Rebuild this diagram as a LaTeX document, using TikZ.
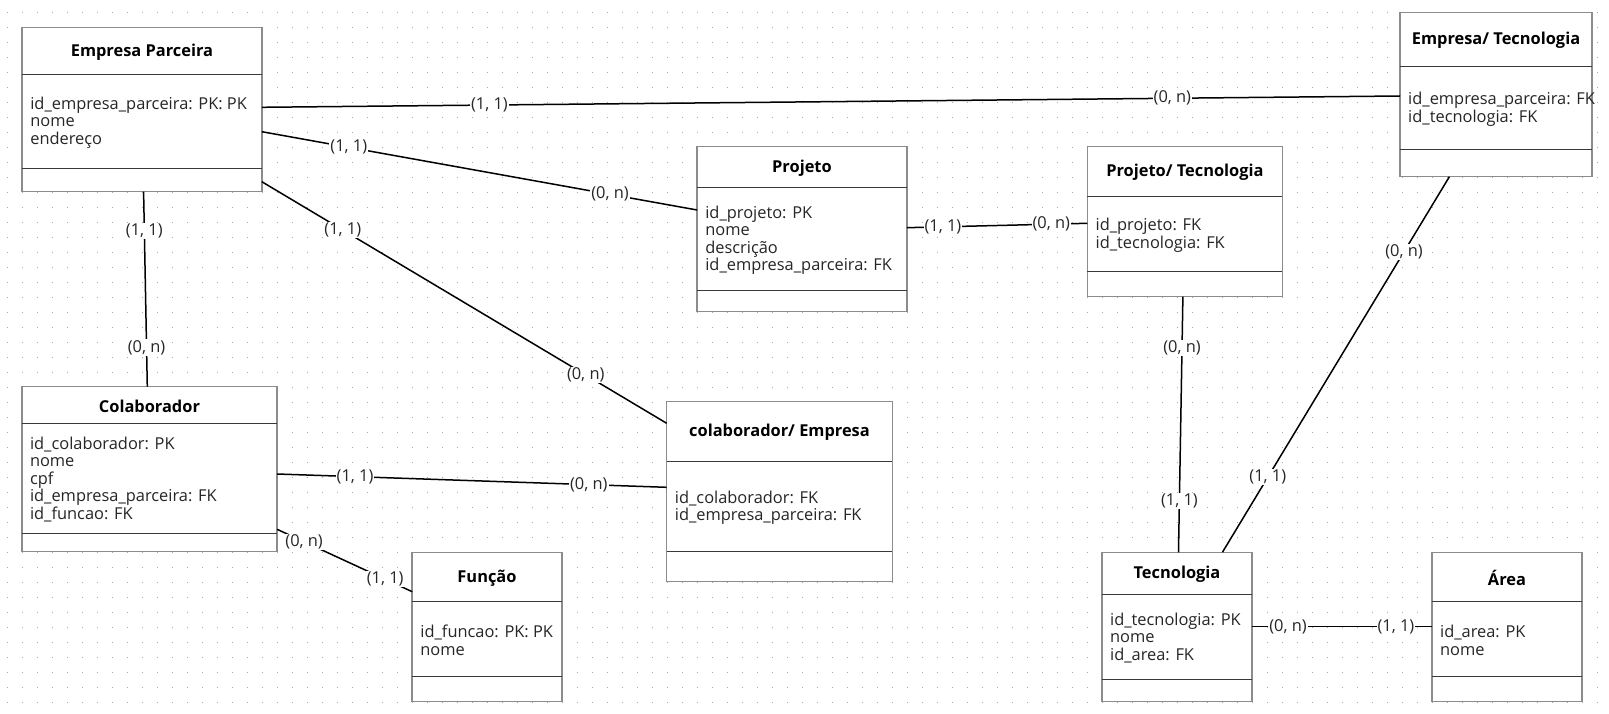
\documentclass[tikz,border=0pt]{standalone}
\usepackage{fontspec}
\setmainfont{Open Sans}
\usetikzlibrary{calc}
\definecolor{boxgray}{HTML}{8C8C8C}
\definecolor{sepcol}{HTML}{3A3A3A}
\definecolor{txtcol}{HTML}{262626}
\definecolor{dotcol}{HTML}{A8A8A8}
\tikzset{
  ebox/.style={draw=boxgray, line width=1.5pt, fill=white, inner sep=0pt, outer sep=0pt, anchor=north west, rectangle},
  sepline/.style={draw=sepcol, line width=1.2pt},
  etitle/.style={font=\fontsize{16.4}{17.5}\selectfont\bfseries, text=black, inner sep=0pt},
  eattr/.style={font=\fontsize{16.4}{17.5}\selectfont, text=txtcol, align=left, inner sep=0pt, anchor=west},
  conn/.style={draw=black, line width=1.5pt},
  card/.style={font=\fontsize{16.4}{17.5}\selectfont, text=txtcol, fill=white, inner sep=1pt},
}
\newcommand{\entitybox}[9]{%
  \pgfmathsetmacro{\entW}{#4-#2}\pgfmathsetmacro{\entH}{#5-#3}%
  \pgfmathsetmacro{\entTX}{(#2+#4)/2}\pgfmathsetmacro{\entTY}{(#3+#6)/2+1}%
  \pgfmathsetmacro{\entAY}{(#6+#7)/2+1}\pgfmathsetmacro{\entAX}{#2+8}%
  \node[ebox, minimum width=\entW pt, minimum height=\entH pt] (#1) at (#2,#3) {};
  \draw[sepline] (#1.west |- 0,#6) -- (#1.east |- 0,#6);
  \draw[sepline] (#1.west |- 0,#7) -- (#1.east |- 0,#7);
  \node[etitle] (#1-t) at (\entTX,\entTY) {#8};
  \node[eattr] (#1-a) at (\entAX,\entAY) {#9};
}
\begin{document}
\begin{tikzpicture}[x=1pt, y=-1pt]
\useasboundingbox (0,0) rectangle (1609,714);
\fill[white] (0,0) rectangle (1609,714);
\foreach \gy in {12.7,27.7,...,710}
  \draw[dotcol, line width=1.3pt, dash pattern=on 1.3pt off 13.7pt] (6.85,\gy) -- (1609,\gy);

\entitybox{ep}{22.1}{27.3}{261.8}{191.7}{74.4}{168.4}{Empresa Parceira}{id\_empresa\_parceira: PK: PK\\nome\\endereço}
\entitybox{pj}{697.1}{146.7}{906.8}{311.7}{187.6}{290.6}{Projeto}{id\_projeto: PK\\nome\\descrição\\id\_empresa\_parceira: FK}
\entitybox{pt}{1087.4}{146.7}{1282.4}{296.7}{196.6}{271.6}{Projeto/ Tecnologia}{id\_projeto: FK\\id\_tecnologia: FK}
\entitybox{et}{1400}{12.3}{1592}{176.7}{66.6}{149.4}{Empresa/ Tecnologia}{id\_empresa\_parceira: FK\\id\_tecnologia: FK}
\entitybox{co}{21.8}{386.7}{277.1}{551.7}{423.4}{533.4}{Colaborador}{id\_colaborador: PK\\nome\\cpf\\id\_empresa\_parceira: FK\\id\_funcao: FK}
\entitybox{ce}{666.7}{401.7}{892.3}{581.7}{461.6}{551.6}{colaborador/ Empresa}{id\_colaborador: FK\\id\_empresa\_parceira: FK}
\entitybox{fu}{412.2}{552.3}{561.8}{701.7}{601.6}{676.6}{Função}{id\_funcao: PK: PK\\nome}
\entitybox{te}{1101.9}{552.3}{1252}{701.7}{594.4}{679.6}{Tecnologia}{id\_tecnologia: PK\\nome\\id\_area: FK}
\entitybox{ar}{1431.9}{552.3}{1582}{701.7}{601.6}{676.6}{Área}{id\_area: PK\\nome}

\draw[conn] (ep.east |- 0,107.3) -- node[card,pos=0.2]{(1, 1)} node[card,pos=0.8]{(0, n)} (et.west |- 0,96);
\draw[conn] (ep.east |- 0,131.7) -- node[card,pos=0.2]{(1, 1)} node[card,pos=0.8]{(0, n)} (pj.west |- 0,210);
\draw[conn] (ep.east |- 0,181.7) -- node[card,pos=0.2]{(1, 1)} node[card,pos=0.8]{(0, n)} (ce.west |- 0,423.3);
\draw[conn] (ep.south -| 143.6,0) -- node[card,pos=0.2]{(1, 1)} node[card,pos=0.8]{(0, n)} (co.north -| 147.3,0);
\draw[conn] (pj.east |- 0,227.7) -- node[card,pos=0.2]{(1, 1)} node[card,pos=0.8]{(0, n)} (pt.west |- 0,223.3);
\draw[conn] (pt.south -| 1182.9,0) -- node[card,pos=0.2]{(0, n)} node[card,pos=0.8]{(1, 1)} (te.north -| 1178.5,0);
\draw[conn] (et.south -| 1449.4,0) -- node[card,pos=0.2]{(0, n)} node[card,pos=0.8]{(1, 1)} (te.north -| 1222.4,0);
\draw[conn] (co.east |- 0,474) -- node[card,pos=0.2]{(1, 1)} node[card,pos=0.8]{(0, n)} (ce.west |- 0,487.3);
\draw[conn] (co.east |- 0,529.3) -- node[card,pos=0.2]{(0, n)} node[card,pos=0.8]{(1, 1)} (fu.west |- 0,591.7);
\draw[conn] (te.east |- 0,626.7) -- node[card,pos=0.2]{(0, n)} node[card,pos=0.8]{(1, 1)} (ar.west |- 0,626.7);
\end{tikzpicture}
\end{document}
